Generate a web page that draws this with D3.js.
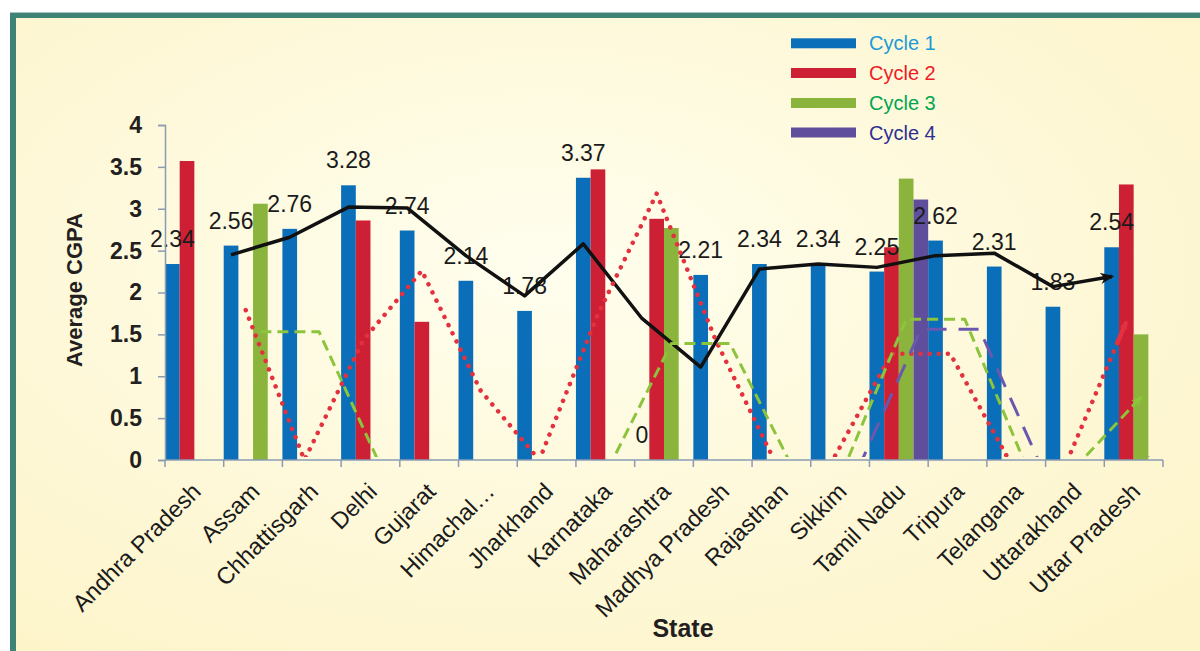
<!DOCTYPE html>
<html>
<head>
<meta charset="utf-8">
<script src="https://cdn.jsdelivr.net/npm/d3@7"></script>
<style>
  html, body { margin: 0; padding: 0; background: #ffffff; }
  svg { display: block; font-family: "Liberation Sans", Arial, sans-serif; }
</style>
</head>
<body>
<svg id="chart" width="1200" height="651"></svg>
<script>
const categories = ["Andhra Pradesh", "Assam", "Chhattisgarh", "Delhi", "Gujarat", "Himachal…", "Jharkhand", "Karnataka", "Maharashtra", "Madhya Pradesh", "Rajasthan", "Sikkim", "Tamil Nadu", "Tripura", "Telangana", "Uttarakhand", "Uttar Pradesh"];
const seriesNames = ["Cycle 1", "Cycle 2", "Cycle 3", "Cycle 4"];
const cycle1 = [2.34, 2.56, 2.76, 3.28, 2.74, 2.14, 1.78, 3.37, 0, 2.21, 2.34, 2.34, 2.25, 2.62, 2.31, 1.83, 2.54];
const cycle2 = [3.57, 0, 0, 2.86, 1.65, 0, 0, 3.47, 2.88, 0, 0, 0, 2.54, 0, 0, 0, 3.29];
const cycle3 = [0, 3.06, 0, 0, 0, 0, 0, 0, 2.77, 0, 0, 0, 3.36, 0, 0, 0, 1.50];
const cycle4 = [0, 0, 0, 0, 0, 0, 0, 0, 0, 0, 0, 0, 3.11, 0, 0, 0, 0];
// trend lines (2-period moving average lines)
const trend1 = [null, 2.45, 2.66, 3.02, 3.01, 2.44, 1.96, 2.58, 1.69, 1.11, 2.28, 2.34, 2.30, 2.44, 2.47, 2.07, 2.19];
const trend2 = [null, 1.79, 0, 1.43, 2.26, 0.83, 0, 1.74, 3.18, 1.44, 0, 0, 1.27, 1.27, 0, 0, 1.65];
const trend3 = [null, 1.53, 1.53, 0, 0, 0, 0, 0, 1.39, 1.39, 0, 0, 1.68, 1.68, 0, 0, 0.75];
const trend4 = [null, 0, 0, 0, 0, 0, 0, 0, 0, 0, 0, 0, 1.56, 1.56, 0, 0, 0];
const yTicks = [0, 0.5, 1, 1.5, 2, 2.5, 3, 3.5, 4];

const barColors = ["#0A6FB8", "#CE2034", "#8AB43C", "#5E4E9C"];
const legendTextColors = ["#1C9AD6", "#EE1C25", "#00A651", "#2E3192"];
const trendStyles = [
  { color: "#111111", width: 3.5, dash: null, cap: "butt" },
  { color: "#E3313F", width: 4.5, dash: "0.1 9", cap: "round" },
  { color: "#8CC43C", width: 3, dash: "11 6", cap: "butt" },
  { color: "#6A58AE", width: 3, dash: "20 12", cap: "butt" }
];

const svg = d3.select("#chart");
const defs = svg.append("defs");

const grad = defs.append("radialGradient").attr("id", "bg")
  .attr("cx", "45%").attr("cy", "40%").attr("r", "75%");
grad.append("stop").attr("offset", "0%").attr("stop-color", "#FFFEEE");
grad.append("stop").attr("offset", "100%").attr("stop-color", "#FDF4C9");

// frame / background
svg.append("rect").attr("x", 10).attr("y", 12).attr("width", 1190).attr("height", 639).attr("fill", "url(#bg)");
svg.append("rect").attr("x", 10).attr("y", 12).attr("width", 1190).attr("height", 1).attr("fill", "#A9C8BD");
svg.append("rect").attr("x", 10).attr("y", 13).attr("width", 1190).attr("height", 5).attr("fill", "#3E8373");
svg.append("rect").attr("x", 10).attr("y", 13).attr("width", 6).attr("height", 638).attr("fill", "#3E8373");

const x = d3.scaleBand().domain(categories).range([165, 1163]).padding(0);
const xs = d3.scaleBand().domain(d3.range(4)).range([0, x.bandwidth()]).padding(0);
const y = d3.scaleLinear().domain([0, 4]).range([460, 125]);

const seriesData = [cycle1, cycle2, cycle3, cycle4];
const trends = [trend1, trend2, trend3, trend4];

// bars
seriesData.forEach((vals, si) => {
  svg.append("g").selectAll("rect").data(vals).join("rect")
    .attr("x", (d, i) => x(categories[i]) + xs(si))
    .attr("width", xs.bandwidth())
    .attr("y", d => y(d))
    .attr("height", d => y(0) - y(d))
    .attr("fill", barColors[si]);
});

// data labels (cycle 1)
svg.append("g").selectAll("text").data(cycle1).join("text")
  .attr("x", (d, i) => x(categories[i]) + xs(0) + xs.bandwidth() / 2)
  .attr("y", d => y(d) - 17)
  .attr("text-anchor", "middle")
  .attr("font-size", 23)
  .attr("fill", "#1b1b1b")
  .text(d => String(d));

// markers
trendStyles.forEach((st, si) => {
  const size = si === 0 ? 14 : (si === 2 ? 12 : 10);
  defs.append("marker").attr("id", "arrow" + si)
    .attr("viewBox", "0 0 10 10").attr("refX", 8).attr("refY", 5)
    .attr("markerUnits", "userSpaceOnUse")
    .attr("markerWidth", size).attr("markerHeight", size)
    .attr("orient", "auto")
    .append("path").attr("d", "M0,1 L10,5 L0,9 L3,5 Z").attr("fill", st.color);
});

// clip so that lines lying on the zero line are hidden behind the axis
defs.append("clipPath").attr("id", "plotClip")
  .append("rect").attr("x", 150).attr("y", 100).attr("width", 1050).attr("height", y(0) - 3 - 100);

const linesG = svg.append("g");
trends.forEach((vals, si) => {
  const st = trendStyles[si];
  const pts = vals.map((v, i) => ({ v, i })).filter(p => p.v !== null);
  const line = d3.line()
    .x(p => x(categories[p.i]) + xs(si) + xs.bandwidth() / 2)
    .y(p => y(p.v));
  const g = linesG.append("g").attr("clip-path", "url(#plotClip)");
  g.append("path").attr("d", line(pts))
    .attr("fill", "none").attr("stroke", st.color)
    .attr("stroke-width", st.width)
    .attr("stroke-dasharray", st.dash)
    .attr("stroke-linecap", st.cap)
    .attr("stroke-linejoin", "round");
  // arrow head at the end
  const last = pts[pts.length - 1], prev = pts[pts.length - 2];
  const ex = x(categories[last.i]) + xs(si) + xs.bandwidth() / 2;
  const px = x(categories[prev.i]) + xs(si) + xs.bandwidth() / 2;
  const ey = y(last.v), py = y(prev.v);
  const t = 0.85;
  const arrowG = last.v === 0 ? g : linesG;
  arrowG.append("path")
    .attr("d", `M${px + (ex - px) * t},${py + (ey - py) * t}L${ex},${ey}`)
    .attr("stroke", st.color).attr("stroke-width", st.width).attr("fill", "none")
    .attr("marker-end", "url(#arrow" + si + ")");
});

// y axis
const axisColor = "#8A9BB3";
const yAxis = svg.append("g").attr("transform", "translate(165,0)")
  .call(d3.axisLeft(y).tickValues(yTicks).tickFormat(d => String(d)).tickSize(7).tickPadding(16));
yAxis.select(".domain").attr("stroke", axisColor).attr("stroke-width", 1.5);
yAxis.selectAll(".tick line").attr("stroke", axisColor).attr("stroke-width", 1.5);
yAxis.selectAll(".tick text")
  .attr("font-family", "Liberation Sans, Arial, sans-serif")
  .attr("font-size", 23).attr("font-weight", "bold").attr("fill", "#231F20");

// x axis
const xAxis = svg.append("g").attr("transform", `translate(0,${y(0)})`)
  .call(d3.axisBottom(x).tickSize(0).tickPadding(0));
xAxis.select(".domain").remove();
xAxis.selectAll(".tick text")
  .attr("font-family", "Liberation Sans, Arial, sans-serif")
  .attr("font-size", 23.5).attr("fill", "#1a1a1a")
  .attr("text-anchor", "end")
  .attr("x", 0).attr("y", 0).attr("dy", 0)
  .attr("transform", "translate(8,33) rotate(-45)");
const xLineG = svg.append("g");
xLineG.append("line").attr("x1", 165).attr("x2", 1163).attr("y1", y(0)).attr("y2", y(0))
  .attr("stroke", axisColor).attr("stroke-width", 1.5);
const boundaries = categories.map(c => x(c)).concat([x.range()[1]]);
xLineG.selectAll("line.tk").data(boundaries).join("line").attr("class", "tk")
  .attr("x1", d => d).attr("x2", d => d)
  .attr("y1", y(0)).attr("y2", y(0) + 7)
  .attr("stroke", axisColor).attr("stroke-width", 1.5);

// axis titles
svg.append("text").attr("transform", "translate(82,290) rotate(-90)")
  .attr("text-anchor", "middle").attr("font-size", 22).attr("font-weight", "bold")
  .attr("fill", "#231F20").text("Average CGPA");
svg.append("text").attr("x", 683).attr("y", 637)
  .attr("text-anchor", "middle").attr("font-size", 25).attr("font-weight", "bold")
  .attr("fill", "#231F20").text("State");

// legend
const legend = svg.append("g");
const legendY = [43.3, 73, 103, 132.5];
seriesNames.forEach((name, si) => {
  legend.append("rect").attr("x", 791).attr("y", legendY[si] - 5).attr("width", 65).attr("height", 10)
    .attr("fill", barColors[si]);
  legend.append("text").attr("x", 869).attr("y", legendY[si] + 7)
    .attr("font-size", 20).attr("fill", legendTextColors[si]).text(name);
});
</script>
</body>
</html>
